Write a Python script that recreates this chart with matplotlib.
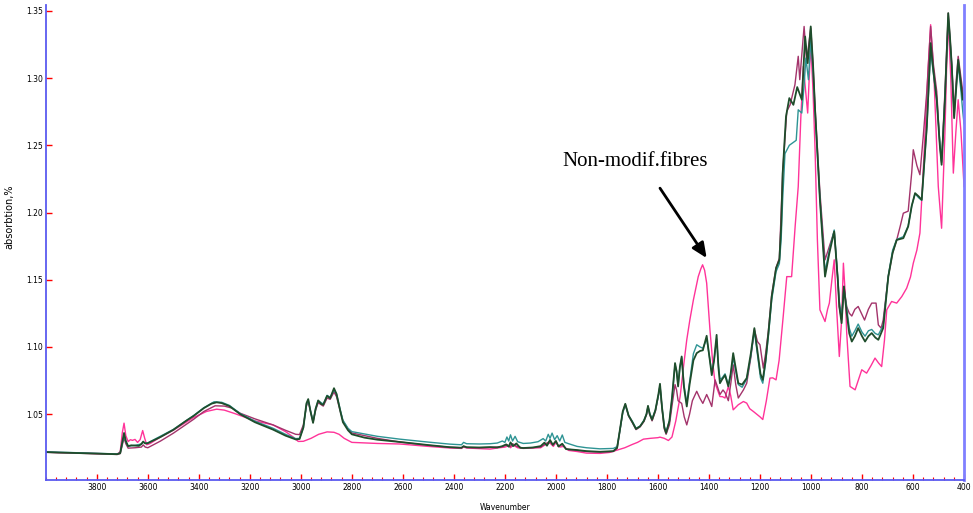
import matplotlib
matplotlib.use('Agg')
import matplotlib.pyplot as plt
from matplotlib.ticker import FixedLocator, MultipleLocator, FormatStrFormatter

# FTIR spectra, (wavenumber, absorbtion)
pink_pts = [(4000, 1.0217), (3900, 1.0212), (3800, 1.0207), (3720, 1.0203), (3708, 1.0220),
    (3700, 1.0360), (3693, 1.0433), (3686, 1.0340), (3677, 1.0296), (3668, 1.0310), (3660, 1.0305),
    (3650, 1.0312), (3640, 1.0290), (3630, 1.0310), (3620, 1.0378), (3612, 1.0320), (3604, 1.0272),
    (3590, 1.0282), (3550, 1.0330), (3500, 1.0380), (3420, 1.0475), (3370, 1.0520), (3330, 1.0537),
    (3300, 1.0530), (3260, 1.0505), (3238, 1.0490), (3180, 1.0450), (3109, 1.0420), (3060, 1.0370),
    (3030, 1.0330), (3010, 1.0297), (2990, 1.0298), (2960, 1.0320), (2930, 1.0350), (2897, 1.0368),
    (2870, 1.0365), (2850, 1.0350), (2830, 1.0320), (2800, 1.0290), (2700, 1.0282), (2612, 1.0278),
    (2500, 1.0260), (2416, 1.0248), (2370, 1.0245), (2362, 1.0255), (2350, 1.0248), (2258, 1.0240),
    (2230, 1.0248), (2200, 1.0255), (2185, 1.0265), (2178, 1.0250), (2168, 1.0270), (2150, 1.0250),
    (2128, 1.0245), (2060, 1.0250), (2040, 1.0275), (2023, 1.0285), (2010, 1.0260), (2000, 1.0290),
    (1985, 1.0255), (1971, 1.0260), (1950, 1.0230), (1917, 1.0222), (1880, 1.0210), (1827, 1.0208),
    (1790, 1.0215), (1757, 1.0234), (1730, 1.0250), (1700, 1.0275), (1680, 1.0290), (1657, 1.0314),
    (1630, 1.0320), (1600, 1.0325), (1592, 1.0329), (1575, 1.0320), (1559, 1.0304), (1545, 1.0330),
    (1530, 1.0450), (1513, 1.0631), (1500, 1.0850), (1487, 1.1053), (1475, 1.1200), (1461, 1.1350),
    (1442, 1.1523), (1432, 1.1580), (1425, 1.1611), (1417, 1.1570), (1409, 1.1475), (1396, 1.1125),
    (1385, 1.0880), (1376, 1.0730), (1357, 1.0631), (1347, 1.0630), (1337, 1.0620), (1324, 1.0706),
    (1315, 1.0640), (1305, 1.0532), (1285, 1.0570), (1265, 1.0594), (1252, 1.0582), (1240, 1.0540),
    (1226, 1.0520), (1200, 1.0480), (1189, 1.0460), (1175, 1.0600), (1161, 1.0768), (1150, 1.0770),
    (1137, 1.0755), (1125, 1.0900), (1109, 1.1226), (1095, 1.1523), (1076, 1.1523), (1062, 1.1900),
    (1050, 1.2193), (1040, 1.2700), (1030, 1.3087), (1013, 1.2740), (1001, 1.3260), (992, 1.2900),
    (984, 1.2467), (975, 1.1800), (965, 1.1276), (945, 1.1189), (935, 1.1280), (928, 1.1326),
    (918, 1.1500), (909, 1.1648), (900, 1.1300), (889, 1.0929), (880, 1.1200), (873, 1.1623),
    (866, 1.1400), (860, 1.1103), (847, 1.0706), (827, 1.0681), (815, 1.0750), (801, 1.0830),
    (782, 1.0805), (765, 1.0860), (749, 1.0917), (735, 1.0880), (723, 1.0854), (712, 1.1050),
    (703, 1.1276), (684, 1.1338), (664, 1.1326), (644, 1.1375), (625, 1.1437), (610, 1.1520),
    (599, 1.1623), (585, 1.1720), (573, 1.1847), (563, 1.2200), (553, 1.2591), (540, 1.3100),
    (531, 1.3397), (518, 1.3012), (501, 1.2193), (488, 1.1883), (475, 1.2591), (468, 1.3100),
    (462, 1.3433), (452, 1.3000), (442, 1.2293), (432, 1.2600), (423, 1.2839), (412, 1.2600),
    (400, 1.2193)]

maroon_pts = [(4000, 1.0216), (3900, 1.0211), (3800, 1.0205), (3720, 1.0200), (3708, 1.0206),
    (3700, 1.0270), (3693, 1.0324), (3686, 1.0280), (3677, 1.0247), (3650, 1.0250), (3625, 1.0255),
    (3618, 1.0271), (3610, 1.0255), (3600, 1.0250), (3550, 1.0300), (3500, 1.0358), (3420, 1.0462),
    (3380, 1.0520), (3336, 1.0562), (3300, 1.0560), (3270, 1.0545), (3238, 1.0507), (3180, 1.0465),
    (3109, 1.0420), (3060, 1.0380), (3020, 1.0350), (3005, 1.0348), (2990, 1.0420), (2978, 1.0560),
    (2971, 1.0595), (2962, 1.0520), (2952, 1.0440), (2942, 1.0530), (2932, 1.0585), (2912, 1.0560),
    (2897, 1.0620), (2885, 1.0610), (2870, 1.0665), (2860, 1.0630), (2845, 1.0520), (2835, 1.0450),
    (2815, 1.0390), (2800, 1.0360), (2700, 1.0320), (2612, 1.0293), (2500, 1.0268), (2416, 1.0254),
    (2370, 1.0250), (2362, 1.0260), (2350, 1.0252), (2300, 1.0250), (2258, 1.0252), (2210, 1.0258),
    (2190, 1.0272), (2180, 1.0258), (2170, 1.0280), (2155, 1.0262), (2128, 1.0246), (2060, 1.0255),
    (2040, 1.0280), (2023, 1.0298), (2012, 1.0268), (2000, 1.0300), (1990, 1.0258), (1975, 1.0275),
    (1960, 1.0240), (1917, 1.0230), (1880, 1.0222), (1827, 1.0218), (1775, 1.0222), (1760, 1.0245),
    (1748, 1.0395), (1738, 1.0515), (1728, 1.0572), (1715, 1.0485), (1700, 1.0435), (1686, 1.0385),
    (1670, 1.0405), (1655, 1.0445), (1645, 1.0495), (1639, 1.0555), (1632, 1.0495), (1623, 1.0450),
    (1610, 1.0520), (1598, 1.0640), (1592, 1.0710), (1584, 1.0540), (1575, 1.0390), (1568, 1.0350),
    (1555, 1.0420), (1545, 1.0560), (1533, 1.0720), (1527, 1.0680), (1521, 1.0600), (1507, 1.0580),
    (1497, 1.0480), (1487, 1.0420), (1476, 1.0500), (1465, 1.0600), (1448, 1.0670), (1436, 1.0620),
    (1424, 1.0580), (1409, 1.0646), (1398, 1.0600), (1389, 1.0557), (1376, 1.0755), (1366, 1.0700),
    (1357, 1.0646), (1345, 1.0680), (1337, 1.0660), (1324, 1.0600), (1315, 1.0720), (1305, 1.0867),
    (1295, 1.0720), (1285, 1.0620), (1265, 1.0680), (1252, 1.0730), (1236, 1.0920), (1222, 1.1130),
    (1210, 1.1040), (1200, 1.1016), (1187, 1.0842), (1178, 1.0950), (1167, 1.1120), (1154, 1.1390),
    (1137, 1.1590), (1124, 1.1660), (1111, 1.2300), (1095, 1.2752), (1082, 1.2801), (1063, 1.2950),
    (1050, 1.3162), (1044, 1.2988), (1027, 1.3384), (1017, 1.3120), (1001, 1.3372), (992, 1.3100),
    (984, 1.2780), (965, 1.2150), (945, 1.1648), (928, 1.1747), (909, 1.1860), (895, 1.1500),
    (889, 1.1300), (880, 1.1200), (871, 1.1450), (860, 1.1300), (850, 1.1251), (840, 1.1230),
    (828, 1.1280), (815, 1.1301), (800, 1.1240), (790, 1.1200), (775, 1.1280), (762, 1.1326),
    (745, 1.1326), (736, 1.1164), (725, 1.1140), (717, 1.1200), (697, 1.1523), (680, 1.1700),
    (664, 1.1796), (650, 1.1900), (638, 1.1995), (619, 1.2010), (605, 1.2300), (599, 1.2467),
    (585, 1.2350), (573, 1.2281), (560, 1.2565), (546, 1.2900), (531, 1.3384), (520, 1.3100),
    (507, 1.2900), (495, 1.2500), (488, 1.2370), (475, 1.2900), (462, 1.3483), (455, 1.3300),
    (448, 1.3100), (439, 1.2750), (430, 1.3000), (423, 1.3162), (412, 1.3000), (405, 1.2900),
    (400, 1.2800)]

teal_pts = [(4000, 1.0220), (3900, 1.0214), (3800, 1.0208), (3720, 1.0204), (3708, 1.0212),
    (3700, 1.0285), (3693, 1.0345), (3686, 1.0295), (3677, 1.0262), (3650, 1.0268), (3625, 1.0278),
    (3618, 1.0292), (3610, 1.0283), (3600, 1.0286), (3500, 1.0386), (3420, 1.0490), (3380, 1.0548),
    (3340, 1.0592), (3310, 1.0588), (3280, 1.0565), (3238, 1.0505), (3180, 1.0448), (3109, 1.0395),
    (3060, 1.0350), (3020, 1.0318), (3005, 1.0320), (2990, 1.0400), (2978, 1.0570), (2971, 1.0605),
    (2962, 1.0525), (2952, 1.0445), (2942, 1.0540), (2932, 1.0600), (2912, 1.0575), (2897, 1.0640),
    (2885, 1.0625), (2870, 1.0680), (2860, 1.0650), (2845, 1.0530), (2835, 1.0455), (2815, 1.0395),
    (2800, 1.0370), (2700, 1.0335), (2612, 1.0314), (2500, 1.0292), (2416, 1.0277), (2370, 1.0272),
    (2362, 1.0290), (2350, 1.0280), (2300, 1.0278), (2258, 1.0280), (2230, 1.0285), (2210, 1.0300),
    (2200, 1.0290), (2192, 1.0330), (2185, 1.0300), (2178, 1.0346), (2170, 1.0300), (2160, 1.0335),
    (2150, 1.0295), (2128, 1.0282), (2100, 1.0285), (2070, 1.0295), (2050, 1.0318), (2040, 1.0300),
    (2030, 1.0350), (2023, 1.0320), (2015, 1.0359), (2005, 1.0310), (1995, 1.0340), (1985, 1.0300),
    (1975, 1.0345), (1965, 1.0290), (1950, 1.0280), (1917, 1.0260), (1880, 1.0250), (1827, 1.0242),
    (1775, 1.0245), (1760, 1.0258), (1748, 1.0390), (1738, 1.0510), (1728, 1.0570), (1715, 1.0490),
    (1700, 1.0445), (1686, 1.0395), (1670, 1.0410), (1655, 1.0455), (1645, 1.0500), (1639, 1.0555),
    (1632, 1.0505), (1623, 1.0465), (1610, 1.0530), (1598, 1.0640), (1592, 1.0715), (1584, 1.0550),
    (1575, 1.0410), (1568, 1.0370), (1555, 1.0450), (1545, 1.0610), (1533, 1.0870), (1527, 1.0820),
    (1521, 1.0715), (1514, 1.0850), (1507, 1.0920), (1498, 1.0720), (1487, 1.0580), (1476, 1.0740),
    (1461, 1.0950), (1448, 1.1016), (1435, 1.1000), (1424, 1.0990), (1409, 1.1060), (1400, 1.0950),
    (1389, 1.0810), (1380, 1.0900), (1370, 1.1060), (1363, 1.0870), (1357, 1.0760), (1348, 1.0770),
    (1337, 1.0800), (1324, 1.0720), (1315, 1.0790), (1305, 1.0920), (1295, 1.0820), (1285, 1.0720),
    (1270, 1.0700), (1252, 1.0760), (1236, 1.0930), (1222, 1.1120), (1207, 1.0900), (1198, 1.0770),
    (1189, 1.0730), (1178, 1.0880), (1167, 1.1080), (1154, 1.1350), (1137, 1.1560), (1124, 1.1620),
    (1117, 1.1800), (1111, 1.2100), (1102, 1.2438), (1085, 1.2500), (1070, 1.2520), (1058, 1.2537),
    (1050, 1.2764), (1036, 1.2740), (1027, 1.2950), (1020, 1.3149), (1010, 1.2988), (1001, 1.3280),
    (992, 1.3050), (984, 1.2750), (965, 1.2100), (945, 1.1560), (928, 1.1720), (909, 1.1870),
    (895, 1.1520), (889, 1.1340), (880, 1.1220), (871, 1.1430), (860, 1.1290), (850, 1.1140),
    (840, 1.1080), (828, 1.1120), (815, 1.1170), (800, 1.1110), (788, 1.1080), (775, 1.1120),
    (762, 1.1130), (748, 1.1100), (736, 1.1090), (717, 1.1160), (697, 1.1530), (680, 1.1720),
    (664, 1.1800), (638, 1.1820), (619, 1.1900), (605, 1.2050), (592, 1.2140), (578, 1.2110),
    (566, 1.2090), (555, 1.2390), (546, 1.2630), (531, 1.3200), (520, 1.3030), (507, 1.2830),
    (495, 1.2520), (488, 1.2380), (475, 1.2850), (462, 1.3450), (455, 1.3280), (448, 1.3080),
    (439, 1.2720), (430, 1.2950), (423, 1.3100), (412, 1.2900), (405, 1.2750), (400, 1.2660)]

green_pts = [(4000, 1.0218), (3950, 1.0214), (3900, 1.0212), (3850, 1.0209), (3800, 1.0206),
    (3760, 1.0204), (3720, 1.0202), (3708, 1.0210), (3700, 1.0290), (3693, 1.0360), (3686, 1.0300),
    (3677, 1.0262), (3665, 1.0268), (3650, 1.0266), (3635, 1.0264), (3625, 1.0278), (3618, 1.0296),
    (3610, 1.0282), (3600, 1.0284), (3550, 1.0330), (3500, 1.0383), (3450, 1.0450), (3420, 1.0487),
    (3380, 1.0545), (3350, 1.0578), (3330, 1.0588), (3310, 1.0582), (3280, 1.0560), (3238, 1.0500),
    (3180, 1.0440), (3109, 1.0385), (3060, 1.0340), (3020, 1.0312), (3005, 1.0315), (2990, 1.0400),
    (2978, 1.0580), (2971, 1.0612), (2962, 1.0520), (2952, 1.0435), (2942, 1.0540), (2932, 1.0602),
    (2920, 1.0575), (2912, 1.0570), (2897, 1.0636), (2885, 1.0618), (2870, 1.0693), (2860, 1.0650),
    (2845, 1.0520), (2835, 1.0440), (2815, 1.0380), (2800, 1.0350), (2750, 1.0325), (2700, 1.0310),
    (2612, 1.0293), (2500, 1.0270), (2416, 1.0254), (2370, 1.0250), (2362, 1.0262), (2350, 1.0254),
    (2300, 1.0252), (2258, 1.0255), (2230, 1.0252), (2210, 1.0262), (2195, 1.0275), (2185, 1.0258),
    (2178, 1.0290), (2168, 1.0262), (2155, 1.0282), (2140, 1.0250), (2128, 1.0248), (2090, 1.0252),
    (2060, 1.0262), (2045, 1.0288), (2035, 1.0265), (2023, 1.0308), (2012, 1.0272), (2000, 1.0300),
    (1990, 1.0260), (1975, 1.0280), (1960, 1.0240), (1917, 1.0233), (1880, 1.0225), (1827, 1.0220),
    (1775, 1.0225), (1760, 1.0250), (1748, 1.0400), (1738, 1.0520), (1728, 1.0577), (1715, 1.0490),
    (1700, 1.0440), (1686, 1.0390), (1670, 1.0410), (1655, 1.0450), (1645, 1.0500), (1639, 1.0562),
    (1632, 1.0500), (1623, 1.0458), (1610, 1.0530), (1598, 1.0650), (1592, 1.0726), (1584, 1.0550),
    (1575, 1.0400), (1568, 1.0360), (1555, 1.0450), (1545, 1.0620), (1533, 1.0880), (1527, 1.0820),
    (1521, 1.0706), (1514, 1.0850), (1507, 1.0929), (1498, 1.0700), (1487, 1.0557), (1476, 1.0720),
    (1461, 1.0900), (1448, 1.0954), (1435, 1.0970), (1424, 1.0975), (1409, 1.1083), (1400, 1.0950),
    (1389, 1.0790), (1380, 1.0900), (1370, 1.1090), (1363, 1.0850), (1357, 1.0730), (1348, 1.0760),
    (1337, 1.0790), (1324, 1.0706), (1315, 1.0800), (1305, 1.0954), (1295, 1.0840), (1285, 1.0730),
    (1270, 1.0720), (1252, 1.0768), (1236, 1.0950), (1222, 1.1140), (1207, 1.0929), (1198, 1.0800),
    (1189, 1.0755), (1178, 1.0900), (1167, 1.1103), (1154, 1.1375), (1137, 1.1586), (1124, 1.1648),
    (1117, 1.1900), (1111, 1.2293), (1098, 1.2714), (1085, 1.2851), (1069, 1.2801), (1054, 1.2933),
    (1036, 1.2839), (1023, 1.3309), (1013, 1.3111), (1001, 1.3384), (992, 1.3100), (984, 1.2764),
    (965, 1.2094), (945, 1.1523), (928, 1.1698), (909, 1.1859), (895, 1.1500), (889, 1.1301),
    (880, 1.1177), (871, 1.1450), (860, 1.1251), (850, 1.1100), (840, 1.1040), (828, 1.1080),
    (815, 1.1140), (800, 1.1080), (788, 1.1040), (775, 1.1080), (762, 1.1103), (748, 1.1070),
    (736, 1.1053), (717, 1.1140), (697, 1.1523), (680, 1.1700), (664, 1.1796), (638, 1.1809),
    (619, 1.1896), (605, 1.2050), (592, 1.2144), (578, 1.2120), (566, 1.2094), (555, 1.2400),
    (546, 1.2640), (531, 1.3260), (520, 1.3050), (507, 1.2839), (495, 1.2500), (488, 1.2355),
    (475, 1.2839), (462, 1.3483), (455, 1.3300), (448, 1.3087), (439, 1.2702), (430, 1.2950),
    (423, 1.3136), (412, 1.2950), (405, 1.2839), (400, 1.2850)]

series = [(pink_pts, '#ff3399', 1.0), (maroon_pts, '#a3336b', 1.0),
          (teal_pts, '#2e9494', 1.0), (green_pts, '#1e4d2b', 1.3)]

x_major = list(range(400, 3801, 200))
y_major = [1.05, 1.10, 1.15, 1.20, 1.25, 1.30, 1.35]

fig = plt.figure(figsize=(9.73, 5.13), dpi=100)
ax = fig.add_axes([0.047, 0.0643, 0.9438, 0.925])

for pts, col, lw in series:
    wn, ab = zip(*pts)
    ax.plot(wn, ab, color=col, lw=lw)

ax.set_xlim(4000, 400)
ax.set_ylim(1.001, 1.354)

ax.xaxis.set_major_locator(FixedLocator(x_major))
ax.xaxis.set_minor_locator(MultipleLocator(40))
ax.yaxis.set_major_locator(FixedLocator(y_major))
ax.yaxis.set_major_formatter(FormatStrFormatter('%.2f'))

ax.tick_params(axis='both', which='major', direction='in', color='red', length=4,
               width=1, labelsize=5.5, pad=2)
ax.tick_params(axis='x', which='minor', direction='in', color='red', length=2.5, width=0.8)

for s in ['left', 'bottom']:
    ax.spines[s].set_color('#5a5af0')
    ax.spines[s].set_linewidth(1.3)
ax.spines['right'].set_color('#8080ff')
ax.spines['right'].set_linewidth(2)
ax.spines['top'].set_visible(False)

ax.set_xlabel('Wavenumber', fontsize=5.5, labelpad=8)
ax.set_ylabel('absorbtion,%', fontsize=7)
ax.yaxis.set_label_coords(-0.034, 0.555)

# label and arrow for the untreated sample
ax.text(1690, 1.2377, 'Non-modif.fibres', family='Liberation Serif', fontsize=15,
        ha='center', va='center')
ax.annotate('', xy=(1409, 1.1661), xytext=(1592, 1.2181),
            arrowprops=dict(arrowstyle='-|>,head_length=0.9,head_width=0.4',
                            color='black', lw=2, shrinkA=0, shrinkB=0))

plt.savefig('out.png', dpi=100)
